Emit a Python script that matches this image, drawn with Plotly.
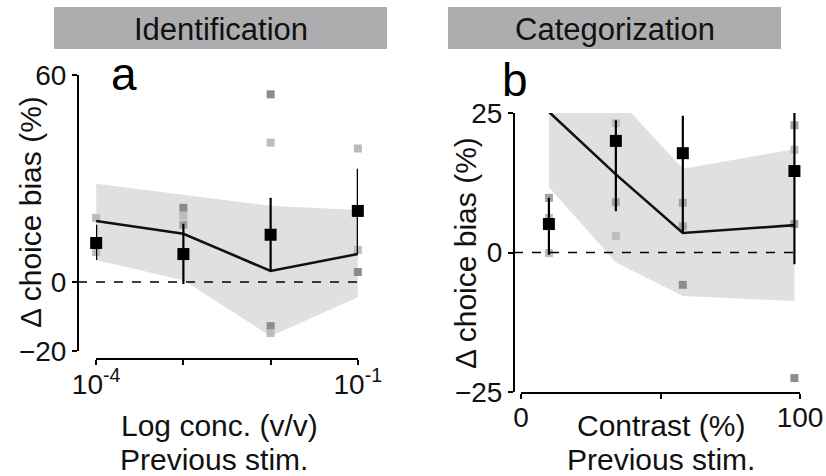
import plotly.graph_objects as go

W, H = 826, 476

# ---------------- Panel a: Identification ----------------
a_x = [1e-4, 1e-3, 1e-2, 1e-1]
a_mean = [11.3, 8.1, 13.7, 20.6]
a_err_hi = [16.6, 16.9, 24.4, 32.8]
a_err_lo = [6.4, -0.6, 3.2, 8.1]
a_model = [17.7, 14.0, 3.2, 8.1]
a_band_hi = [28.5, 25.3, 22.1, 20.9]
a_band_lo = [6.4, 0.5, -15.7, -4.4]
a_ind_x = [1e-4, 1e-4, 1e-3, 1e-3, 1e-3, 1e-2, 1e-2, 1e-2, 1e-2, 1e-1, 1e-1, 1e-1]
a_ind_y = [18.6, 8.7, 21.5, 19.2, 16.6, 54.4, 40.4, -12.8, -14.8, 38.7, 9.3, 2.9]
a_ind_shade = ["l", "l", "d", "l", "m", "d", "l", "d", "l", "l", "l", "d"]
a_yticks = [-20, 0, 60]
a_xticks = [1e-4, 1e-1]
a_xticklabels = ["10<sup>-4</sup>", "10<sup>-1</sup>"]
a_xminor = [1e-3, 1e-2]

# ---------------- Panel b: Categorization ----------------
b_x = [10, 34, 58, 98]
b_mean = [5.1, 20.0, 17.8, 14.6]
b_err_hi = [9.8, 23.7, 24.5, 25.0]
b_err_lo = [-0.4, 7.4, 3.5, -2.1]
b_model = [25.2, 14.0, 3.5, 4.9]
b_band_hi = [28.0, 28.0, 15.0, 18.5]
b_band_lo = [11.7, -1.8, -7.8, -8.7]
b_ind_x = [10, 10, 10, 34, 34, 34, 58, 58, 58, 98, 98, 98, 98]
b_ind_y = [9.8, 6.2, -0.1, 23.2, 9.0, 3.0, 8.9, 4.7, -5.8, 22.8, 18.4, 5.1, -22.5]
b_ind_shade = ["m", "l", "l", "l", "m", "l", "m", "m", "d", "m", "l", "m", "d"]
b_yticks = [-25, 0, 25]
b_xticks = [0, 100]
b_xticklabels = ["0", "100"]
b_xminor = [50]

SHADES = {"d": "#8c8c8e", "m": "#a2a2a4", "l": "#bcbcbe"}
BAND = "#e0e0e0"
FONT = "Liberation Sans, Arial, Helvetica, sans-serif"


def px(x):
    return x / W


def py(y):
    return 1 - y / H


fig = go.Figure()


def add_panel(xs, mean, ehi, elo, model, bhi, blo, ix, iy, ishade, xa, ya):
    fig.add_trace(go.Scatter(x=xs + xs[::-1], y=bhi + blo[::-1], fill="toself",
                             fillcolor=BAND, line=dict(width=0), mode="lines",
                             hoverinfo="skip", showlegend=False, xaxis=xa, yaxis=ya))
    fig.add_trace(go.Scatter(x=ix, y=iy, mode="markers",
                             marker=dict(symbol="square", size=8,
                                         color=[SHADES[s] for s in ishade], line=dict(width=0)),
                             cliponaxis=False, showlegend=False, xaxis=xa, yaxis=ya))
    fig.add_trace(go.Scatter(x=xs, y=model, mode="lines",
                             line=dict(color="#111111", width=2.6),
                             showlegend=False, xaxis=xa, yaxis=ya))
    fig.add_trace(go.Scatter(x=xs, y=mean, mode="markers",
                             marker=dict(symbol="square", size=12, color="#000000"),
                             error_y=dict(type="data", symmetric=False,
                                          array=[h - m for h, m in zip(ehi, mean)],
                                          arrayminus=[m - l for m, l in zip(mean, elo)],
                                          thickness=2.2, width=0, color="#000000"),
                             cliponaxis=False, showlegend=False, xaxis=xa, yaxis=ya))


add_panel(a_x, a_mean, a_err_hi, a_err_lo, a_model, a_band_hi, a_band_lo,
          a_ind_x, a_ind_y, a_ind_shade, "x", "y")
add_panel(b_x, b_mean, b_err_hi, b_err_lo, b_model, b_band_hi, b_band_lo,
          b_ind_x, b_ind_y, b_ind_shade, "x2", "y2")

axis_common = dict(showgrid=False, zeroline=False, showline=True, linecolor="#000000",
                   linewidth=2, ticks="outside", ticklen=5, tickwidth=2, tickcolor="#000000",
                   automargin=False,
                   tickfont=dict(family=FONT, size=28, color="#111111"))


def minor(vals):
    return dict(tickmode="array", tickvals=vals, ticks="outside", ticklen=5,
                tickwidth=2, tickcolor="#000000", showgrid=False)


fig.update_layout(
    template="none",
    width=W, height=H,
    margin=dict(l=0, r=0, t=0, b=0, pad=0, autoexpand=False),
    paper_bgcolor="white", plot_bgcolor="white",
    showlegend=False,
    xaxis=dict(type="log", range=[-4.002, -0.998], domain=[px(96), px(358)],
               anchor="free", position=py(359), ticklabelstandoff=-5,
               tickvals=a_xticks, ticktext=a_xticklabels, minor=minor(a_xminor), **axis_common),
    yaxis=dict(range=[-20, 60], domain=[py(351), py(75)],
               anchor="free", position=px(78), tickvals=a_yticks, **axis_common),
    xaxis2=dict(range=[0, 100], domain=[px(521), px(800)],
                anchor="free", position=py(393), ticklabelstandoff=-6,
                tickvals=b_xticks, ticktext=b_xticklabels, minor=minor(b_xminor), **axis_common),
    yaxis2=dict(range=[-25, 25], domain=[py(392), py(113)],
                anchor="free", position=px(514), tickvals=b_yticks, **axis_common),
)


def label(x, y, text, size, angle=0, color="#111111"):
    fig.add_annotation(x=px(x), y=py(y), xref="paper", yref="paper", text=text,
                       textangle=angle, showarrow=False, xanchor="center", yanchor="middle",
                       font=dict(family=FONT, size=size, color=color))


for x0, x1, txt in [(54, 387, "Identification"), (448, 781, "Categorization")]:
    fig.add_shape(type="rect", xref="paper", yref="paper",
                  x0=px(x0), x1=px(x1), y0=py(49), y1=py(7),
                  fillcolor="#adadaf", line=dict(width=0), layer="below")
    label((x0 + x1) / 2, 29, txt, 31)

fig.add_shape(type="line", xref="paper", yref="y", x0=px(78), x1=px(358), y0=0, y1=0,
              line=dict(color="#000000", width=1.6, dash="dash"))
fig.add_shape(type="line", xref="paper", yref="y2", x0=px(514), x1=px(800), y0=0, y1=0,
              line=dict(color="#000000", width=1.6, dash="dash"))

label(124, 74, "a", 46, color="#000000")
label(515, 80, "b", 46, color="#000000")

label(30, 212, "Δ choice bias (%)", 30, angle=-90)
label(465, 253, "Δ choice bias (%)", 30, angle=-90)
label(219, 425, "Log conc. (v/v)", 30)
label(214, 459, "Previous stim.", 30)
label(661, 425, "Contrast (%)", 30)
label(661, 459, "Previous stim.", 30)

fig.write_html("out.html")
